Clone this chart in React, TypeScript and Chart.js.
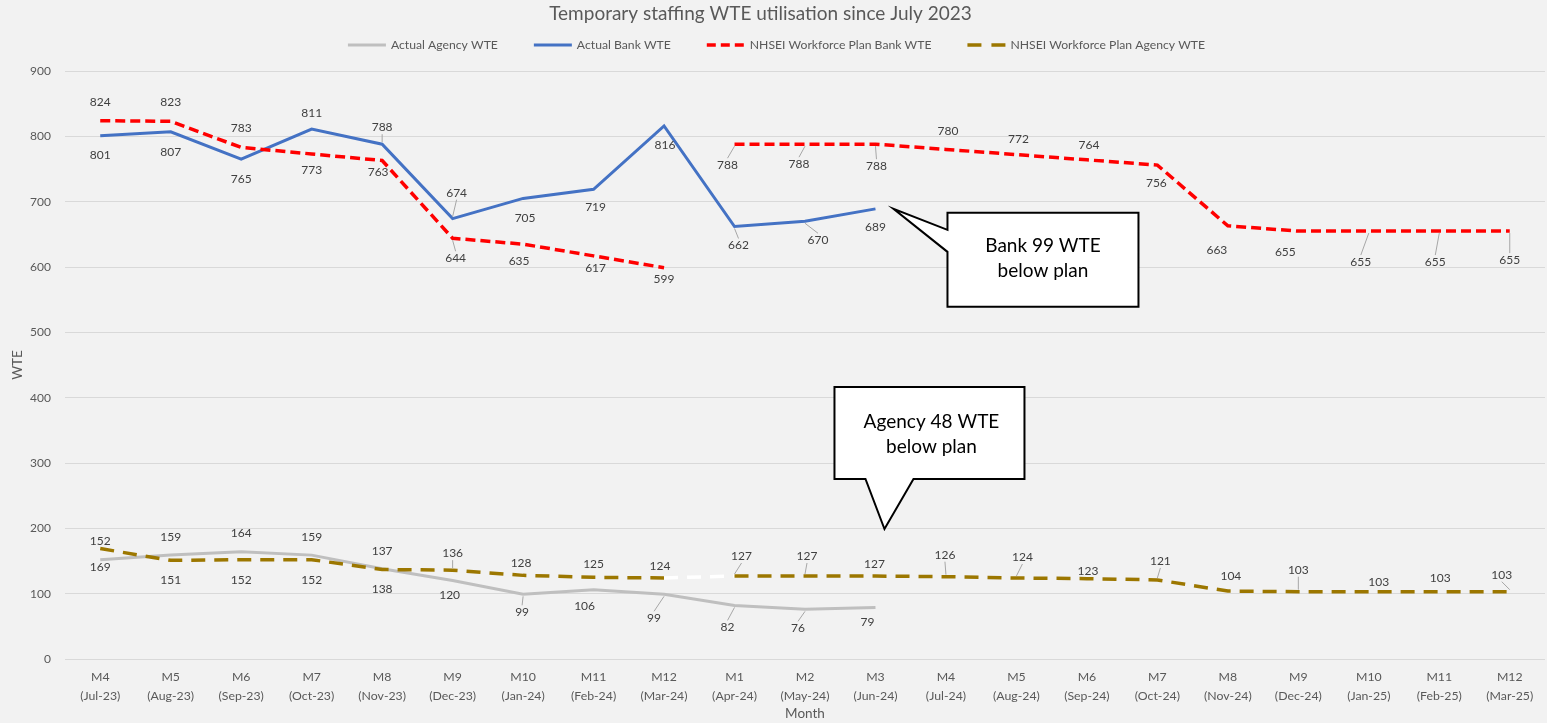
import React, { useEffect, useRef } from "react";
import { Chart, registerables } from "chart.js";

Chart.register(...registerables);

// ---- data ----
const months: string[][] = [
  ["M4", "(Jul-23)"], ["M5", "(Aug-23)"], ["M6", "(Sep-23)"], ["M7", "(Oct-23)"],
  ["M8", "(Nov-23)"], ["M9", "(Dec-23)"], ["M10", "(Jan-24)"], ["M11", "(Feb-24)"],
  ["M12", "(Mar-24)"], ["M1", "(Apr-24)"], ["M2", "(May-24)"], ["M3", "(Jun-24)"],
  ["M4", "(Jul-24)"], ["M5", "(Aug-24)"], ["M6", "(Sep-24)"], ["M7", "(Oct-24)"],
  ["M8", "(Nov-24)"], ["M9", "(Dec-24)"], ["M10", "(Jan-25)"], ["M11", "(Feb-25)"],
  ["M12", "(Mar-25)"],
];

const actualAgency: (number | null)[] = [152, 159, 164, 159, 138, 120, 99, 106, 99, 82, 76, 79,
  null, null, null, null, null, null, null, null, null];
const actualBank: (number | null)[] = [801, 807, 765, 811, 788, 674, 705, 719, 816, 662, 670, 689,
  null, null, null, null, null, null, null, null, null];
const planBank: number[] = [824, 823, 783, 773, 763, 644, 635, 617, 599, 788, 788, 788,
  780, 772, 764, 756, 663, 655, 655, 655, 655];
const planAgency: number[] = [169, 151, 152, 152, 137, 136, 128, 125, 124, 127, 127, 127,
  126, 124, 123, 121, 104, 103, 103, 103, 103];

const yTicks: number[] = [0, 100, 200, 300, 400, 500, 600, 700, 800, 900];

const seriesNames: string[] = [
  "Actual Agency WTE",
  "Actual Bank WTE",
  "NHSEI Workforce Plan Bank WTE",
  "NHSEI Workforce Plan Agency WTE",
];

const titleText = "Temporary staffing WTE utilisation since July 2023";
const bankNote: string[] = ["Bank 99 WTE", "below plan"];
const agencyNote: string[] = ["Agency 48 WTE", "below plan"];

// ---- label placement: [dx, dy, leader] relative to each point ----
type Place = [number, number, boolean];
const actualAgencyLabelPos: Place[] = [
  [0, -19, false], [0, -18, false], [0, -19, false], [0, -18, false], [0, 20, false],
  [-3, 15, false], [-1, 18, true], [-9, 16, false], [-10, 24, true], [-7, 22, true],
  [-7, 19, true], [-8, 15, false],
];
const actualBankLabelPos: Place[] = [
  [0, 19, false], [0, 20, false], [0, 20, false], [0, -16, false], [0, -17, true],
  [4, -26, true], [2, 20, false], [2, 18, false], [1, 19, false], [4, 19, true],
  [13, 19, true], [0, 18, false],
];
const planBankLabelPos: Place[] = [
  [0, -19, false], [0, -19, false], [0, -19, false], [0, 16, false], [-4, 12, false],
  [3, 20, true], [-4, 17, false], [2, 12, false], [0, 11, false], [-7, 21, true],
  [-6, 20, true], [1, 22, true], [2, -18, false], [2, -16, false], [2, -15, false],
  [-1, 18, false], [-11, 24, false], [-13, 21, false], [-8, 31, true], [-4, 31, true],
  [0, 29, true],
];
const planAgencyLabelPos: Place[] = [
  [0, 19, false], [0, 20, false], [0, 20, false], [0, 20, false], [0, -18, false],
  [0, -17, true], [-2, -12, false], [0, -13, false], [-4, -12, false], [7, -20, true],
  [2, -20, true], [-1, -12, false], [-1, -22, true], [6, -21, true], [1, -8, false],
  [3, -19, true], [3, -15, false], [0, -22, true], [10, -10, false], [1, -14, false],
  [-8, -17, true],
];
const labelPlacements: Place[][] = [
  actualAgencyLabelPos, actualBankLabelPos, planBankLabelPos, planAgencyLabelPos,
];

// ---- styles ----
const FONT = "Lato, 'Open Sans', sans-serif";
const GREY_TEXT = "#595959";
const LABEL_TEXT = "#404040";
const BG = "#f2f2f2";
const COLORS = ["#bfbfbf", "#4472c4", "#ff0000", "#9c7700"];
const DASHES: number[][] = [[], [], [10, 5], [14, 9]];

// Point labels with optional leader lines
const pointLabelPlugin = {
  id: "pointLabels",
  afterDatasetsDraw(chart: any) {
    const ctx: CanvasRenderingContext2D = chart.ctx;
    ctx.save();
    ctx.font = `12px ${FONT}`;
    ctx.textAlign = "center";
    ctx.textBaseline = "middle";
    chart.data.datasets.forEach((ds: any, di: number) => {
      const meta = chart.getDatasetMeta(di);
      const places = labelPlacements[di];
      meta.data.forEach((pt: any, i: number) => {
        const v = ds.data[i];
        if (v == null || !places[i]) return;
        const [dx, dy, lead] = places[i];
        const lx = pt.x + dx;
        const ly = pt.y + dy;
        if (lead) {
          const s = Math.sign(dy);
          ctx.strokeStyle = "#a6a6a6";
          ctx.lineWidth = 1;
          ctx.beginPath();
          ctx.moveTo(pt.x, pt.y + s * 2);
          ctx.lineTo(lx, ly - s * 7);
          ctx.stroke();
        }
        ctx.fillStyle = LABEL_TEXT;
        ctx.fillText(String(v), lx, ly);
      });
    });
    ctx.restore();
  },
};

function drawCallout(
  ctx: CanvasRenderingContext2D,
  outline: [number, number][],
  lines: string[],
  cx: number,
  cy: number,
) {
  ctx.save();
  ctx.beginPath();
  outline.forEach(([x, y], k) => (k === 0 ? ctx.moveTo(x, y) : ctx.lineTo(x, y)));
  ctx.closePath();
  ctx.fillStyle = "#ffffff";
  ctx.fill();
  ctx.lineWidth = 2;
  ctx.strokeStyle = "#000000";
  ctx.lineJoin = "miter";
  ctx.stroke();
  ctx.fillStyle = "#000000";
  ctx.font = `19px ${FONT}`;
  ctx.textAlign = "center";
  ctx.textBaseline = "middle";
  lines.forEach((t, k) => ctx.fillText(t, cx, cy + (k - (lines.length - 1) / 2) * 25));
  ctx.restore();
}

// Title, legend, axis titles and callouts
const decorPlugin = {
  id: "decor",
  afterDraw(chart: any) {
    const ctx: CanvasRenderingContext2D = chart.ctx;
    const { chartArea, scales } = chart;
    const W = chart.width;
    ctx.save();

    // title
    ctx.fillStyle = GREY_TEXT;
    ctx.font = `19px ${FONT}`;
    ctx.textAlign = "center";
    ctx.textBaseline = "middle";
    ctx.fillText(titleText, W / 2 - 13, 14);

    // legend
    ctx.font = `12.2px ${FONT}`;
    const sample = 38;
    const gapText = 5;
    const gapItem = 36;
    const widths = seriesNames.map((n) => ctx.measureText(n).width);
    const total = widths.reduce((a, w) => a + sample + gapText + w, 0) + gapItem * (seriesNames.length - 1);
    let x = W / 2 - total / 2 + 3;
    const ly = 45;
    seriesNames.forEach((n, k) => {
      ctx.strokeStyle = COLORS[k];
      ctx.lineWidth = k < 2 ? 3 : 3.5;
      ctx.setLineDash(k === 2 ? [9, 5] : k === 3 ? [14, 10] : []);
      ctx.beginPath();
      ctx.moveTo(x, ly);
      ctx.lineTo(x + sample, ly);
      ctx.stroke();
      ctx.setLineDash([]);
      ctx.fillStyle = GREY_TEXT;
      ctx.textAlign = "left";
      ctx.fillText(n, x + sample + gapText, ly);
      x += sample + gapText + widths[k] + gapItem;
    });

    // axis titles
    ctx.font = `13.5px ${FONT}`;
    ctx.textAlign = "center";
    ctx.fillStyle = GREY_TEXT;
    ctx.fillText("Month", (chartArea.left + chartArea.right) / 2, 714);
    ctx.save();
    ctx.translate(18, (chartArea.top + chartArea.bottom) / 2);
    ctx.rotate(-Math.PI / 2);
    ctx.fillText("WTE", 0, 0);
    ctx.restore();

    // callouts anchored on the June-24 data
    const xs = scales.x;
    const ys = scales.y;
    const bx = xs.getPixelForValue(11) + 18;
    const by = ys.getPixelForValue(689);
    const bL = bx + 54, bT = by + 4, bR = bL + 191, bB = bT + 94;
    drawCallout(
      ctx,
      [[bL, bT], [bR, bT], [bR, bB], [bL, bB], [bL, by + 43], [bx, by], [bL, by + 21]],
      bankNote,
      (bL + bR) / 2,
      (bT + bB) / 2 - 1,
    );

    const ax = xs.getPixelForValue(11) + 9;
    const ay = ys.getPixelForValue(199);
    const aL = ax - 50, aR = aL + 190, aT = ay - 142, aB = ay - 50;
    drawCallout(
      ctx,
      [[aL, aT], [aR, aT], [aR, aB], [ax + 29, aB], [ax, ay], [ax - 19, aB], [aL, aB]],
      agencyNote,
      (aL + aR) / 2 + 2,
      aT + 47,
    );

    ctx.restore();
  },
};

export default function App() {
  const canvasRef = useRef<HTMLCanvasElement>(null);

  useEffect(() => {
    document.body.style.margin = "0";
    document.body.style.background = BG;
    const canvas = canvasRef.current;
    if (!canvas) return;

    const gapSegment = (color: string) => (c: any) => (c.p0DataIndex === 8 ? color : undefined);

    const chart = new Chart(canvas, {
      type: "line",
      data: {
        labels: months,
        datasets: [
          {
            label: seriesNames[0],
            data: actualAgency,
            borderColor: COLORS[0],
            borderWidth: 3,
            pointRadius: 0,
            order: 4,
          },
          {
            label: seriesNames[1],
            data: actualBank,
            borderColor: COLORS[1],
            borderWidth: 3,
            pointRadius: 0,
            order: 3,
          },
          {
            label: seriesNames[2],
            data: planBank,
            borderColor: COLORS[2],
            borderWidth: 3.5,
            borderDash: DASHES[2],
            pointRadius: 0,
            order: 2,
            segment: { borderColor: gapSegment("rgba(0,0,0,0)") },
          },
          {
            label: seriesNames[3],
            data: planAgency,
            borderColor: COLORS[3],
            borderWidth: 3.5,
            borderDash: DASHES[3],
            pointRadius: 0,
            order: 1,
            segment: { borderColor: gapSegment("#ffffff") },
          },
        ],
      },
      options: {
        responsive: false,
        animation: false,
        devicePixelRatio: 1,
        layout: { padding: { top: 71, right: 2, left: 0, bottom: 0 } },
        plugins: {
          legend: { display: false },
          title: { display: false },
          tooltip: { enabled: false },
        },
        scales: {
          x: {
            offset: true,
            grid: { display: false, drawTicks: false },
            border: { display: false },
            ticks: {
              color: GREY_TEXT,
              font: { family: FONT, size: 12.3, lineHeight: 1.5 },
              padding: 9,
              maxRotation: 0,
              autoSkip: false,
            },
            afterFit: (s: any) => {
              s.height = 64;
            },
          },
          y: {
            min: 0,
            max: 900,
            afterBuildTicks: (s: any) => {
              s.ticks = yTicks.map((v) => ({ value: v }));
            },
            grid: { color: "#d9d9d9", lineWidth: 1, drawTicks: false },
            border: { display: false },
            ticks: {
              color: GREY_TEXT,
              font: { family: FONT, size: 12 },
              padding: 14,
            },
            afterFit: (s: any) => {
              s.width = 65;
            },
          },
        },
      },
      plugins: [pointLabelPlugin, decorPlugin],
    });

    return () => chart.destroy();
  }, []);

  return (
    <div style={{ width: 1547, height: 723, background: BG }}>
      <canvas ref={canvasRef} width={1547} height={723} style={{ display: "block" }} />
    </div>
  );
}
